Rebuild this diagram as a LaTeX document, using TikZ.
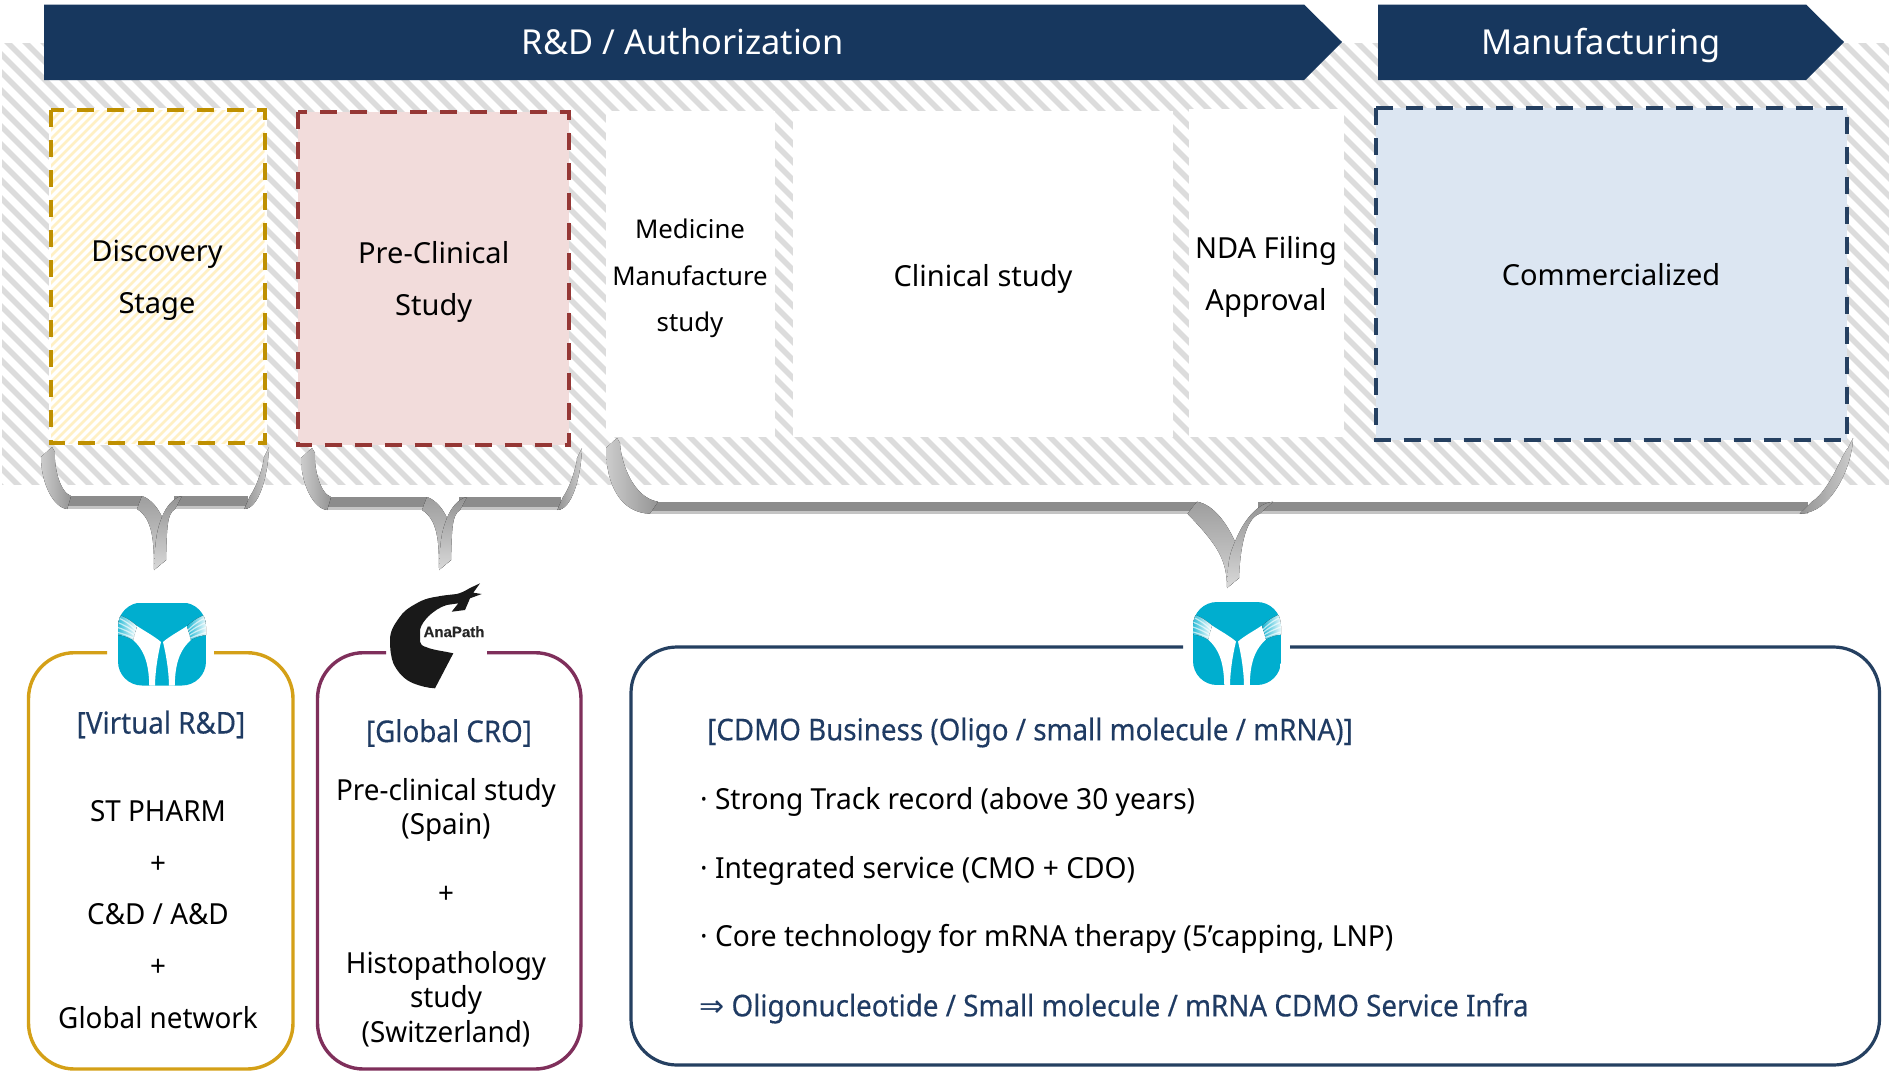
\documentclass[tikz,border=0pt]{standalone}
\usepackage{fontspec}
\setmainfont{Noto Sans}
\newfontfamily\condf[FakeStretch=0.96]{Noto Sans}
\newfontfamily\listf[FakeStretch=0.97]{Noto Sans}
\newfontfamily\headf[FakeStretch=0.925,FakeBold=0.3]{Noto Sans}
\newfontfamily\symf{DejaVu Sans}
\newfontfamily\logof[FakeBold=0.4]{Liberation Sans}
\definecolor{navy}{HTML}{17375E}
\definecolor{hatchgray}{HTML}{DCDCDC}
\definecolor{goldline}{HTML}{BF9000}
\definecolor{goldbox}{HTML}{D4A017}
\definecolor{hatchyellow}{HTML}{FFF0C4}
\definecolor{redline}{HTML}{953735}
\definecolor{redfill}{HTML}{F2DCDB}
\definecolor{blueline}{HTML}{254061}
\definecolor{bluefill}{HTML}{DCE6F2}
\definecolor{plum}{HTML}{7F2F5B}
\definecolor{teal}{HTML}{00AECF}
\definecolor{headblue}{HTML}{1F3B63}
\definecolor{bardark}{HTML}{8C8C8C}
\definecolor{barlight}{HTML}{C4C4C4}
\newcommand\ribbonbrace[9]{%
  \pgfmathsetmacro\xl{#1}\pgfmathsetmacro\xc{#2}\pgfmathsetmacro\xr{#3}%
  \pgfmathsetmacro\yz{#4}\pgfmathsetmacro\yb{#5}\pgfmathsetmacro\tk{#6}%
  \pgfmathsetmacro\yt{#7}\pgfmathsetmacro\aw{#8}\pgfmathsetmacro\sw{#9}%
  \pgfmathsetmacro\yj{\yb+1.05*\sw}%
  \pgfmathsetmacro\dy{\yb-\yz}%
  % bars
  \fill[bardark] (\xl+0.8*\aw,\yb) rectangle (\xc-\sw,\yb+0.8*\tk);
  \fill[barlight] (\xl+0.8*\aw,\yb+0.8*\tk) rectangle (\xc-\sw,\yb+\tk);
  \fill[bardark] (\xc+0.6*\sw,\yb) rectangle (\xr-1.1*\aw,\yb+0.8*\tk);
  \fill[barlight] (\xc+0.6*\sw,\yb+0.8*\tk) rectangle (\xr-1.1*\aw,\yb+\tk);
  % arms
  \fill[left color=black!20,right color=black!42] (\xl,\yz) -- (\xl-11,\yz+10)
     .. controls (\xl-11,\yz+0.75*\dy) and (\xl+0.1*\aw,\yb+\tk-1) .. (\xl+0.8*\aw,\yb+\tk)
     -- (\xl+\aw,\yb)
     .. controls (\xl+0.4*\aw,\yb-4) and (\xl+0.1*\aw,\yz+0.4*\dy) .. (\xl+3,\yz+5) -- cycle;
  \fill[left color=black!42,right color=black!20] (\xr,\yz)
     .. controls (\xr-1,\yz+30) and (\xr-0.55*\aw,\yb+\tk) .. (\xr-1.3*\aw,\yb+\tk)
     -- (\xr-\aw,\yb)
     .. controls (\xr-0.55*\aw,\yb-12) and (\xr-0.25*\aw,\yz+14) .. (\xr-5,\yz+10) -- cycle;
  % centre: left ribbon behind, right ribbon in front
  \fill[top color=black!38,bottom color=black!17] (\xc-\sw,\yb)
     .. controls (\xc-0.55*\sw,\yb+3) and (\xc-0.2*\sw,\yb+0.6*\sw) .. (\xc,\yj)
     .. controls (\xc+2,\yj+10) and (\xc+3.5,\yt-25) .. (\xc+4,\yt-10)
     -- (\xc-8,\yt)
     .. controls (\xc-8,\yt-28) and (\xc-0.45*\sw,\yb+1.15*\sw) .. (\xc-1.25*\sw,\yb+\tk) -- cycle;
  \fill[top color=black!42,bottom color=black!15] (\xc+\sw,\yb)
     .. controls (\xc+0.55*\sw,\yb+2) and (\xc+0.2*\sw,\yb+0.55*\sw) .. (\xc,\yj)
     .. controls (\xc-5,\yj+12) and (\xc-7,\yt-30) .. (\xc-8,\yt)
     -- (\xc+4,\yt-10)
     .. controls (\xc+5,\yj+10) and (\xc+0.25*\sw,\yb+\tk+5) .. (\xc+0.65*\sw,\yb+\tk) -- cycle;
}
\newcommand\stlogo[2]{%
  \begin{scope}[shift={(#1,#2)}]
    \begin{scope}
      \path[clip,rounded corners=24] (-44,-41.5) rectangle (44,41.5);
      \fill[teal] (-44,-41.5) rectangle (44,41.5);
      \foreach \sgn in {-1,1}{
        \begin{scope}[xscale=\sgn]
          \fill[white] (-12.7,43) .. controls (-13,26) and (-15,8) .. (-29,-4)
             -- (-25,-18)
             .. controls (-16,-12) and (-8,-8) .. (-1,-2)
             .. controls (-4,10) and (-7,28) .. (-7,43) -- cycle;
          \fill[left color=teal!90!white,right color=white] (-46,-9)
             .. controls (-40,-9) and (-34,-7) .. (-29,-4)
             -- (-25,-18)
             .. controls (-32,-24) and (-38,-28) .. (-46,-30) -- cycle;
          \foreach \r in {0,1,2,3}{
            \draw[white,opacity=0.65,line width=1.2] (-46,{-27+\r*5}) .. controls (-38,{-24+\r*4.6}) and (-32,{-20+\r*4.2}) .. (-25,{-13+\r*2.8});
          }
        \end{scope}
      }
    \end{scope}
  \end{scope}
}
\tikzset{
  banner/.style={fill=navy,draw=none},
  lanetext/.style={text=black,align=center,font=\fontsize{29}{52}\selectfont},
  smalllane/.style={text=black,align=center,font=\fontsize{25.8}{46.5}\selectfont},
  bartext/.style={text=white,anchor=base,font=\fontsize{34.4}{40}\selectfont},
  bodytext/.style={text=black,align=center,font=\condf\fontsize{29}{34.5}\selectfont},
  heading/.style={text=headblue,align=center,font=\headf\fontsize{30}{36}\selectfont},
  listtext/.style={text=black,anchor=west,font=\listf\fontsize{29}{34}\selectfont},
  panel/.style={line width=3.4,rounded corners=46,fill=none},
  dashbox/.style={line width=4,dash pattern=on 17pt off 13pt},
}
\begin{document}
\begin{tikzpicture}[x=1pt,y=-1pt]
\useasboundingbox (0,0) rectangle (1889,1071);
\fill[white] (0,0) rectangle (1889,1071);
% hatched band
\begin{scope}
  \clip (2,43) rectangle (1889,484);
  \foreach \i in {-28,...,108}{
    \draw[hatchgray,line width=5.4] ({\i*18},35) -- ({\i*18+460},495);
  }
\end{scope}
% white lanes
\fill[white] (606,111) rectangle (775,437);
\fill[white] (793,111) rectangle (1173,437);
\fill[white] (1189,109) rectangle (1344,437);
% yellow box
\fill[white] (49,108) rectangle (267,445);
\begin{scope}
  \clip (51,110) rectangle (264.5,443);
  \foreach \i in {0,...,66}{
    \draw[hatchyellow,line width=2.8] ({\i*9-300},445) -- ({\i*9+45},100);
  }
\end{scope}
\draw[goldline,dashbox] (51,110) rectangle (264.5,443);
% red box
\fill[redfill] (297.5,112) rectangle (569,445);
\draw[redline,dashbox] (297.5,112) rectangle (569,445);
% blue box
\fill[bluefill] (1375.5,108) rectangle (1847,440);
\draw[blueline,dashbox] (1375.5,108) rectangle (1847,440);
% banners
\path[banner] (44,4.5) -- (1304,4.5) -- (1342,42) -- (1304,80) -- (44,80) -- cycle;
\path[banner] (1378,4.5) -- (1806,4.5) -- (1844,42) -- (1806,80) -- (1378,80) -- cycle;
\node[bartext] (rd) at (683,54.5) {R\&D / Authorization};
\node[bartext] (mf) at (1601,54.5) {Manufacturing};
% lane labels
\node[lanetext] (disc) at (157,280.5) {Discovery\\Stage};
\node[lanetext] (pre) at (433.7,281.5) {Pre-Clinical\\Study};
\node[smalllane] (med) at (690,278.5) {Medicine\\Manufacture\\study};
\node[lanetext] (clin) at (983,278.5) {Clinical study};
\node[lanetext] (nda) at (1266,276.5) {NDA Filing\\Approval};
\node[lanetext] (comm) at (1611,275) {Commercialized};
% braces
\ribbonbrace{52}{162}{269}{447}{496}{13}{570}{19}{20}
\ribbonbrace{312}{447}{582}{448}{497}{13}{570}{19}{20}
\ribbonbrace{617}{1235}{1853}{438}{501.7}{12}{588}{41}{38}
% panels
\draw[goldbox,panel] (214,652.7) -- (293,652.7) -- (293,1069) -- (28.5,1069) -- (28.5,652.7) -- (107,652.7);
\draw[plum,panel] (487,652.7) -- (581,652.7) -- (581,1069) -- (317.5,1069) -- (317.5,652.7) -- (386,652.7);
\draw[blueline,panel,line width=3.2] (1290,647) -- (1879.5,647) -- (1879.5,1065) -- (631,1065) -- (631,647) -- (1183,647);
% logos
\stlogo{162}{644}
\stlogo{1237}{643.5}
\fill[black!90] (480,583.3) -- (470,588)
  .. controls (465,591) and (461,593) .. (456.7,594)
  .. controls (448,595) and (442,595.5) .. (436.7,596.7)
  .. controls (428,598) and (422,600) .. (416.7,603.3)
  .. controls (408,608) and (403,612) .. (400,616.7)
  .. controls (393,626) and (390,632) .. (390,640)
  .. controls (390,650) and (391,657) .. (393.3,663.3)
  .. controls (398,673) and (405,680) .. (413.3,683.3)
  .. controls (420,686) and (428,688) .. (435,688.3)
  -- (453.3,653.3)
  .. controls (443,651) and (433,650) .. (426.7,647.3)
  .. controls (422,646) and (420,644) .. (420,641.7)
  -- (420,630)
  .. controls (421,625) and (424,621) .. (428,616.7)
  .. controls (434,611) and (440,607) .. (446.7,605)
  -- (458.3,603.3) -- (451.7,611.7) -- (465,610) -- (470,598.3) -- (481.7,594) -- (473.3,592.7) -- cycle;
\node[text=black!85,inner sep=0pt,font=\logof\bfseries\fontsize{15}{17}\selectfont] (ana) at (454,631.7) {AnaPath};
% panel 1 text
\node[heading] (vrd) at (161,724.5) {[Virtual R\&D]};
\node[bodytext] (st) at (158,811) {ST PHARM};
\node[bodytext] (p1) at (158,865) {+};
\node[bodytext] (cd) at (158,914) {C\&D / A\&D};
\node[bodytext] (p2) at (158,968) {+};
\node[bodytext] (gn) at (158,1018) {Global network};
% panel 2 text
\node[heading] (cro) at (449,733) {[Global CRO]};
\node[bodytext] (pcs) at (446,810) {Pre-clinical study\\(Spain)};
\node[bodytext] (p3) at (446,895) {+};
\node[bodytext] (his) at (446,999) {Histopathology\\study\\(Switzerland)};
% panel 3 text
\node[heading,anchor=west,inner sep=0pt] (cdmo) at (707,732.5) {[CDMO Business (Oligo / small molecule / mRNA)]};
\node[listtext,inner sep=0pt] (l1) at (700,801.5) {· Strong Track record (above 30 years)};
\node[listtext,inner sep=0pt] (l2) at (700,870.5) {· Integrated service (CMO + CDO)};
\node[listtext,inner sep=0pt] (l3) at (700,938.5) {· Core technology for mRNA therapy (5’capping, LNP)};
\node[heading,anchor=west,inner sep=0pt] (l4) at (699,1008.5) {{\symf ⇒} Oligonucleotide / Small molecule / mRNA CDMO Service Infra};
\end{tikzpicture}
\end{document}
